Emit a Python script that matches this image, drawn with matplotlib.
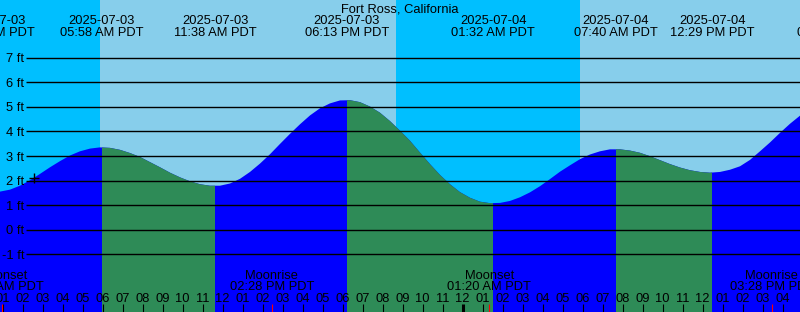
import numpy as np
import matplotlib
matplotlib.use("Agg")
import matplotlib.pyplot as plt

plt.rcParams["font.family"] = ["Liberation Sans", "DejaVu Sans"]

# ── Colours (XTide style) ─────────────────────────────────────────────────────
DAY_SKY   = "#87CEEB"
NIGHT_SKY = "#00BFFF"
FLOOD     = "#0000FF"
EBB       = "#2E8B57"
FS        = 9.3

# ── Data: hours after midnight 2025-07-03 PDT ─────────────────────────────────
T_START, T_END = 0.875, 40.875
SAMPLE_STEP = 0.5
level_ft = [
    1.55, 1.63, 1.79, 2.01, 2.27, 2.54, 2.79, 3.02, 3.19, 3.30,
    3.35, 3.33, 3.25, 3.12, 2.96, 2.75, 2.54, 2.32, 2.13, 1.97,
    1.85, 1.79, 1.79, 1.88, 2.07, 2.35, 2.69, 3.07, 3.49, 3.90,
    4.29, 4.65, 4.94, 5.14, 5.26, 5.27, 5.19, 5.01, 4.76, 4.42,
    4.03, 3.62, 3.14, 2.67, 2.23, 1.85, 1.53, 1.30, 1.14, 1.08,
    1.09, 1.17, 1.32, 1.52, 1.77, 2.06, 2.36, 2.62, 2.87, 3.06,
    3.19, 3.27, 3.27, 3.22, 3.13, 2.99, 2.83, 2.67, 2.53, 2.42,
    2.35, 2.32, 2.35, 2.44, 2.58, 2.84, 3.19, 3.55, 3.94, 4.31,
    4.64,
]

# high / low tide events
event_t    = [0.52, 5.967, 11.633, 18.217, 25.533, 31.667, 36.483, 42.85]
event_date = ["2025-07-03", "2025-07-03", "2025-07-03", "2025-07-03",
              "2025-07-04", "2025-07-04", "2025-07-04", "2025-07-04"]
event_time = ["12:31 AM PDT", "05:58 AM PDT", "11:38 AM PDT", "06:13 PM PDT",
              "01:32 AM PDT", "07:40 AM PDT", "12:29 PM PDT", "06:51 PM PDT"]
event_kind = ["low", "high", "low", "high", "low", "high", "low", "high"]

sunrise_t = [5.875, 29.875]
sunset_t  = [20.675]

moon_t    = [0.99, 14.467, 25.333, 39.467]
moon_kind = ["Moonset", "Moonrise", "Moonset", "Moonrise"]
moon_time = ["12:59 AM PDT", "02:28 PM PDT", "01:20 AM PDT", "03:28 PM PDT"]

grid_ft = [-1, 0, 1, 2, 3, 4, 5, 6, 7]
now_t, now_ft = 2.575, 2.09

TITLE = "Fort Ross, California"

# ── Pixel helpers (800x312 canvas) ────────────────────────────────────────────
PX_PER_FT, ZERO_Y = 24.575, 229.7


def py(y):
    return (ZERO_Y - y) / PX_PER_FT


def px(x):
    return (x + 17.5) / 20.0


# ── Figure ────────────────────────────────────────────────────────────────────
fig = plt.figure(figsize=(8, 3.12), dpi=100)
ax = fig.add_axes([0, 0, 1, 1])
ax.set_xlim(T_START, T_END)
ax.set_ylim(py(312), py(0))
ax.axis("off")

# sky: night / day bands
edges = [T_START] + sorted(sunrise_t + sunset_t) + [T_END]
for i in range(len(edges) - 1):
    ax.axvspan(edges[i], edges[i + 1], color=NIGHT_SKY if i % 2 == 0 else DAY_SKY,
               lw=0, zorder=0)

# water: flood in blue, ebb (high -> low) in green
t = T_START + SAMPLE_STEP * np.arange(len(level_ft))
water = ax.fill_between(t, level_ft, py(400), color=FLOOD, lw=0, zorder=1)
clip = water.get_paths()[0]
for i in range(len(event_t) - 1):
    if event_kind[i] == "high":
        span = ax.axvspan(event_t[i], event_t[i + 1], color=EBB, lw=0, zorder=2)
        span.set_clip_path(clip, ax.transData)

# grid lines + labels
ax.hlines(grid_ft, px(26), T_END, color="black", lw=1.0, zorder=3)
for g in grid_ft:
    ax.text(px(24.5), g - 4.6 / PX_PER_FT, f"{g} ft", ha="right", va="baseline",
            fontsize=FS, zorder=5)

ax.plot(now_t, now_ft, marker="+", ms=7, mew=1.0, color="black", zorder=4)

# title and tide events
ax.text((T_START + T_END) / 2, py(12), TITLE, ha="center", va="baseline",
        fontsize=FS, zorder=5)
for et, d, tm in zip(event_t, event_date, event_time):
    ax.text(et, py(24), d, ha="center", va="baseline", fontsize=FS, zorder=5)
    ax.text(et, py(36), tm, ha="center", va="baseline", fontsize=FS, zorder=5)

# hour ticks along the bottom
for h in range(1, 41):
    ax.vlines(h, py(312.5), py(304), color="black",
              lw=2.2 if h % 24 == 0 else 0.8, zorder=4)
    ax.text(h, py(302), f"{h % 12 or 12:02d}", ha="center", va="baseline",
            fontsize=FS, zorder=5)

# moon rise / set
for mt, mk, mtm in zip(moon_t, moon_kind, moon_time):
    ax.vlines(mt, py(312.5), py(304), color="red", lw=0.8, zorder=4)
    ax.text(mt, py(279), mk, ha="center", va="baseline", fontsize=FS, zorder=5)
    ax.text(mt, py(290.5), mtm, ha="center", va="baseline", fontsize=FS, zorder=5)

fig.savefig("out.png", dpi=100)
